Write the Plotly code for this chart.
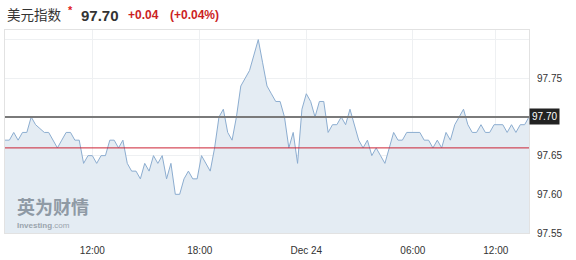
import plotly.graph_objects as go

# ---- data ----
prices = [
    97.67, 97.67, 97.68, 97.67, 97.68, 97.68, 97.70, 97.69, 97.685, 97.68,
    97.68, 97.67, 97.66, 97.67, 97.68, 97.68, 97.67, 97.67, 97.64, 97.65,
    97.65, 97.64, 97.65, 97.65, 97.67, 97.67, 97.66, 97.67, 97.64, 97.63,
    97.63, 97.62, 97.64, 97.63, 97.65, 97.64, 97.65, 97.62, 97.64, 97.60,
    97.60, 97.62, 97.63, 97.62, 97.62, 97.65, 97.64, 97.63, 97.66, 97.70,
    97.71, 97.68, 97.67, 97.70, 97.74, 97.75, 97.76, 97.78, 97.80, 97.77,
    97.74, 97.73, 97.72, 97.72, 97.70, 97.66, 97.68, 97.64, 97.71, 97.73,
    97.72, 97.70, 97.72, 97.72, 97.68, 97.69, 97.69, 97.70, 97.69, 97.71,
    97.69, 97.67, 97.66, 97.67, 97.65, 97.66, 97.65, 97.64, 97.66, 97.68,
    97.67, 97.67, 97.68, 97.68, 97.68, 97.68, 97.67, 97.67, 97.66, 97.67,
    97.66, 97.68, 97.67, 97.69, 97.70, 97.71, 97.69, 97.68, 97.68, 97.69,
    97.68, 97.68, 97.69, 97.69, 97.69, 97.68, 97.69, 97.68, 97.69, 97.69,
    97.70,
]
x_tick_pos = [20.0, 44.6, 69.0, 93.4, 112.4]
x_tick_labels = ["12:00", "18:00", "Dec 24", "06:00", "12:00"]
y_tick_vals = [97.55, 97.60, 97.65, 97.75, 97.80]
y_tick_text = ["97.55", "97.60", "97.65", "97.75", ""]
last_price = 97.70
prev_close = 97.66
title_name = "美元指数"
title_price = "97.70"
title_change = "+0.04"
title_pct = "(+0.04%)"

idx = list(range(len(prices)))

fig = go.Figure()
fig.add_trace(go.Scatter(
    x=idx, y=prices, mode="lines",
    line=dict(color="#8cadd0", width=1),
    fill="tozeroy", fillcolor="#e4ecf3",
    hoverinfo="skip", showlegend=False,
))

fig.add_hline(y=last_price, line=dict(color="#7a7a7a", width=2))
fig.add_hline(y=prev_close, line=dict(color="#cc2233", width=1))

# price box on the right axis
fig.add_annotation(
    x=1, xref="paper", y=last_price, yref="y",
    xanchor="left", yanchor="middle", showarrow=False,
    text=title_price, bgcolor="#222222", borderpad=2,
    font=dict(family="Arial, Liberation Sans", size=10, color="#ffffff"),
)

# header
hdr = [
    (4, title_name, 13.5, "#333333", False),
    (78, title_price, 15, "#333333", True),
    (125, title_change, 12, "#cc1f1f", True),
    (167, title_pct, 12, "#cc1f1f", True),
]
for xpx, txt, sz, col, bold in hdr:
    fig.add_annotation(
        x=(xpx - 4) / 525, xref="paper", y=1, yref="paper",
        yshift=15, xanchor="left", yanchor="middle", showarrow=False,
        text=f"<b>{txt}</b>" if bold else txt,
        font=dict(family="Arial, Liberation Sans, Noto Sans CJK SC", size=sz, color=col),
    )
fig.add_annotation(
    x=(65 - 4) / 525, xref="paper", y=1, yref="paper", yshift=20,
    xanchor="left", yanchor="middle", showarrow=False,
    text="<b>*</b>", font=dict(family="Arial", size=11, color="#e02020"),
)

# watermark
fig.add_annotation(
    x=(14 - 4) / 525, xref="paper", y=97.585, yref="y",
    xanchor="left", yanchor="middle", showarrow=False,
    text="<b>英为财情</b>",
    font=dict(family="Noto Sans CJK SC", size=18, color="#8f9aa5"),
)
fig.add_annotation(
    x=(14 - 4) / 525, xref="paper", y=97.5595, yref="y",
    xanchor="left", yanchor="middle", showarrow=False,
    text="<b>Investing</b>.com",
    font=dict(family="Arial, Liberation Sans", size=8, color="#9aa4ad"),
)

fig.update_layout(
    width=576, height=260,
    margin=dict(l=4, r=47, t=30, b=24),
    paper_bgcolor="#ffffff", plot_bgcolor="#ffffff",
    font=dict(family="Arial, Liberation Sans", size=10, color="#333333"),
    xaxis=dict(
        range=[0, len(prices) - 1], tickvals=x_tick_pos, ticktext=x_tick_labels,
        showgrid=True, gridcolor="#eef0f2", gridwidth=1, zeroline=False,
        showline=True, linecolor="#e2e2e2", mirror=True,
        tickfont=dict(size=10, color="#333333"), ticks="", ticklabelstandoff=8,
    ),
    yaxis=dict(
        range=[97.55, 97.8124], side="right",
        tickvals=y_tick_vals, ticktext=y_tick_text,
        showgrid=True, gridcolor="#eef0f2", gridwidth=1, zeroline=False,
        showline=True, linecolor="#e2e2e2", mirror=True,
        tickfont=dict(size=10, color="#333333"), ticks="", ticklabelstandoff=5,
    ),
)

fig.write_html("out.html")
